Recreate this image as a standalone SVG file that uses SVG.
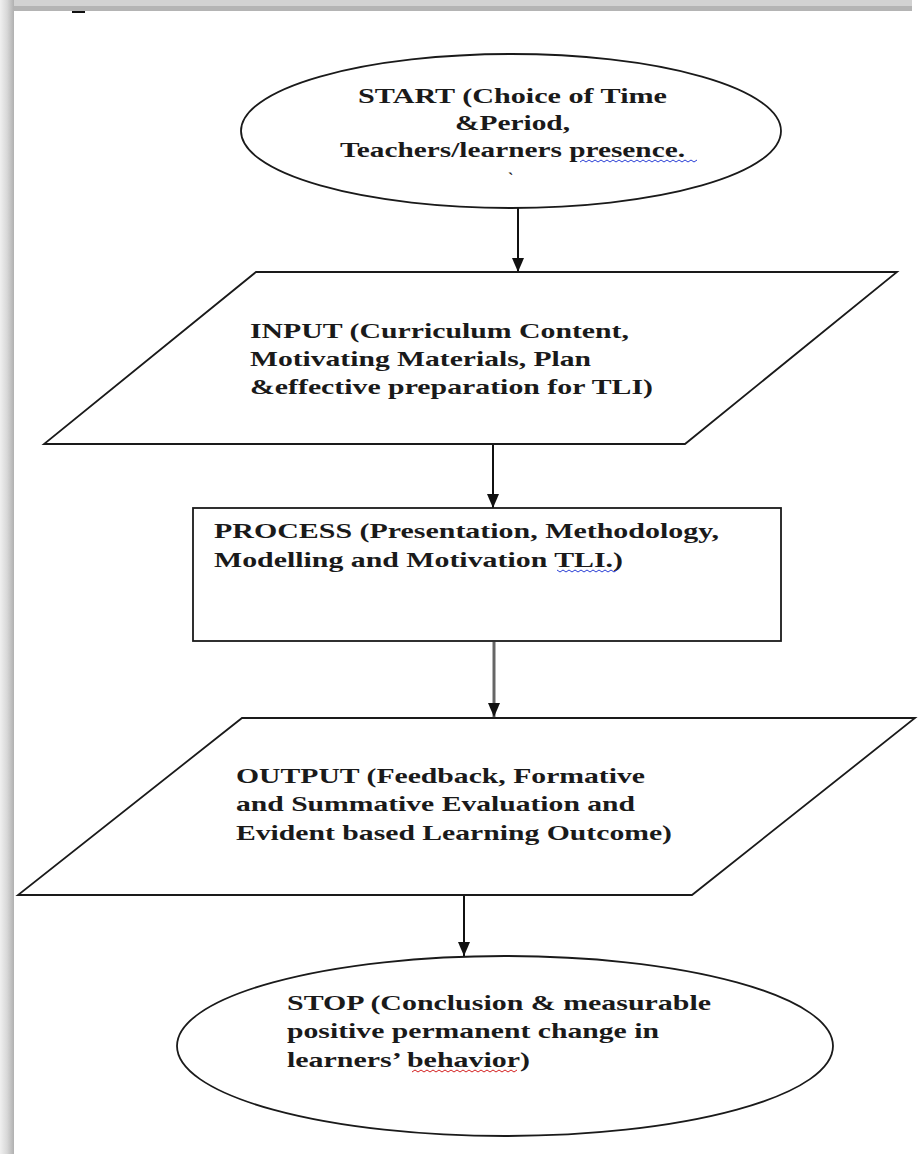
<svg xmlns="http://www.w3.org/2000/svg" width="924" height="1154" viewBox="0 0 924 1154">
<defs>
<linearGradient id="lb" x1="0" y1="0" x2="1" y2="0">
<stop offset="0" stop-color="#f0f0f0"/>
<stop offset="0.5" stop-color="#d8d8d8"/>
<stop offset="1" stop-color="#b0b0b0"/>
</linearGradient>
<marker id="ah" viewBox="0 0 14 12" refX="14" refY="6" markerWidth="14" markerHeight="12" markerUnits="userSpaceOnUse" orient="auto">
<path d="M0,0 L14,6 L0,12 Z" fill="#111"/>
</marker>
</defs>
<style>
.shape{fill:#fff;stroke:#1a1a1a;stroke-width:1.8}
.t{font-family:"Liberation Serif","Times New Roman",serif;font-weight:bold;font-size:21px;fill:#1a1a1a}
.conn{stroke:#111;stroke-width:2;fill:none}
.sqb{stroke:#2a3fd6;stroke-width:1;fill:none}
.sqr{stroke:#d42020;stroke-width:1;fill:none}
</style>
<rect x="0" y="0" width="924" height="1154" fill="#fff"/>
<!-- frame -->
<rect x="0" y="0" width="912" height="6" fill="#d2d2d2"/>
<rect x="0" y="6" width="912" height="5" fill="#b4b4b4"/>
<rect x="0" y="0" width="14" height="1154" fill="url(#lb)"/>
<rect x="72" y="11" width="13" height="2" fill="#111"/>

<g id="connectors">
<line class="conn" x1="518" y1="208" x2="518" y2="272" marker-end="url(#ah)"/>
<line class="conn" x1="493" y1="445" x2="493" y2="508" marker-end="url(#ah)"/>
<line class="conn" x1="494" y1="642" x2="494" y2="717" marker-end="url(#ah)" style="stroke:#666;stroke-width:3"/>
<line class="conn" x1="464" y1="896" x2="464" y2="956" marker-end="url(#ah)"/>
</g>

<g id="start">
<ellipse class="shape" cx="511" cy="131" rx="270" ry="77"/>
<text class="t" x="358" y="103" textLength="309" lengthAdjust="spacingAndGlyphs">START (Choice of Time</text>
<text class="t" x="455" y="130" textLength="115" lengthAdjust="spacingAndGlyphs">&amp;Period,</text>
<text class="t" x="340" y="157" textLength="345" lengthAdjust="spacingAndGlyphs">Teachers/learners presence.</text>
<text class="t" x="508" y="184" style="font-size:16px">`</text>
<path class="sqb" d="M580,162 l3,-2 l3,2 l3,-2 l3,2 l3,-2 l3,2 l3,-2 l3,2 l3,-2 l3,2 l3,-2 l3,2 l3,-2 l3,2 l3,-2 l3,2 l3,-2 l3,2 l3,-2 l3,2 l3,-2 l3,2 l3,-2 l3,2 l3,-2 l3,2 l3,-2 l3,2 l3,-2 l3,2 l3,-2 l3,2 l3,-2 l3,2 l3,-2 l3,2 l3,-2 l3,2 l3,-2"/>
</g>

<g id="input">
<polygon class="shape" points="256,272 897,272 685,444 44,444"/>
<text class="t" x="250" y="338" textLength="379" lengthAdjust="spacingAndGlyphs">INPUT (Curriculum Content,</text>
<text class="t" x="250" y="366" textLength="341" lengthAdjust="spacingAndGlyphs">Motivating Materials, Plan</text>
<text class="t" x="250" y="394" textLength="403" lengthAdjust="spacingAndGlyphs">&amp;effective preparation for TLI)</text>
</g>

<g id="process">
<rect class="shape" x="193" y="508" width="588" height="133"/>
<text class="t" x="214" y="538" textLength="505" lengthAdjust="spacingAndGlyphs">PROCESS (Presentation, Methodology,</text>
<text class="t" x="214" y="567" textLength="409" lengthAdjust="spacingAndGlyphs">Modelling and Motivation TLI.)</text>
<path class="sqb" d="M557,570 l3,2 l3,-2 l3,2 l3,-2 l3,2 l3,-2 l3,2 l3,-2 l3,2 l3,-2 l3,2 l3,-2 l3,2 l3,-2 l3,2 l3,-2 l3,2 l3,-2 l3,2 l3,-2"/>
</g>

<g id="output">
<polygon class="shape" points="242,718 915,718 692,895 18,895"/>
<text class="t" x="236" y="783" textLength="409" lengthAdjust="spacingAndGlyphs">OUTPUT (Feedback, Formative</text>
<text class="t" x="236" y="811" textLength="399" lengthAdjust="spacingAndGlyphs">and Summative Evaluation and</text>
<text class="t" x="236" y="840" textLength="436" lengthAdjust="spacingAndGlyphs">Evident based Learning Outcome)</text>
</g>

<g id="stop">
<ellipse class="shape" cx="505" cy="1046" rx="328" ry="90"/>
<text class="t" x="287" y="1010" textLength="424" lengthAdjust="spacingAndGlyphs">STOP (Conclusion &amp; measurable</text>
<text class="t" x="287" y="1038" textLength="372" lengthAdjust="spacingAndGlyphs">positive permanent change in</text>
<text class="t" x="287" y="1067" textLength="243" lengthAdjust="spacingAndGlyphs">learners’ behavior)</text>
<path class="sqr" d="M412,1072 l3,-2 l3,2 l3,-2 l3,2 l3,-2 l3,2 l3,-2 l3,2 l3,-2 l3,2 l3,-2 l3,2 l3,-2 l3,2 l3,-2 l3,2 l3,-2 l3,2 l3,-2 l3,2 l3,-2 l3,2 l3,-2 l3,2 l3,-2 l3,2 l3,-2 l3,2 l3,-2 l3,2 l3,-2 l3,2 l3,-2 l3,2 l3,-2"/>
</g>
</svg>
